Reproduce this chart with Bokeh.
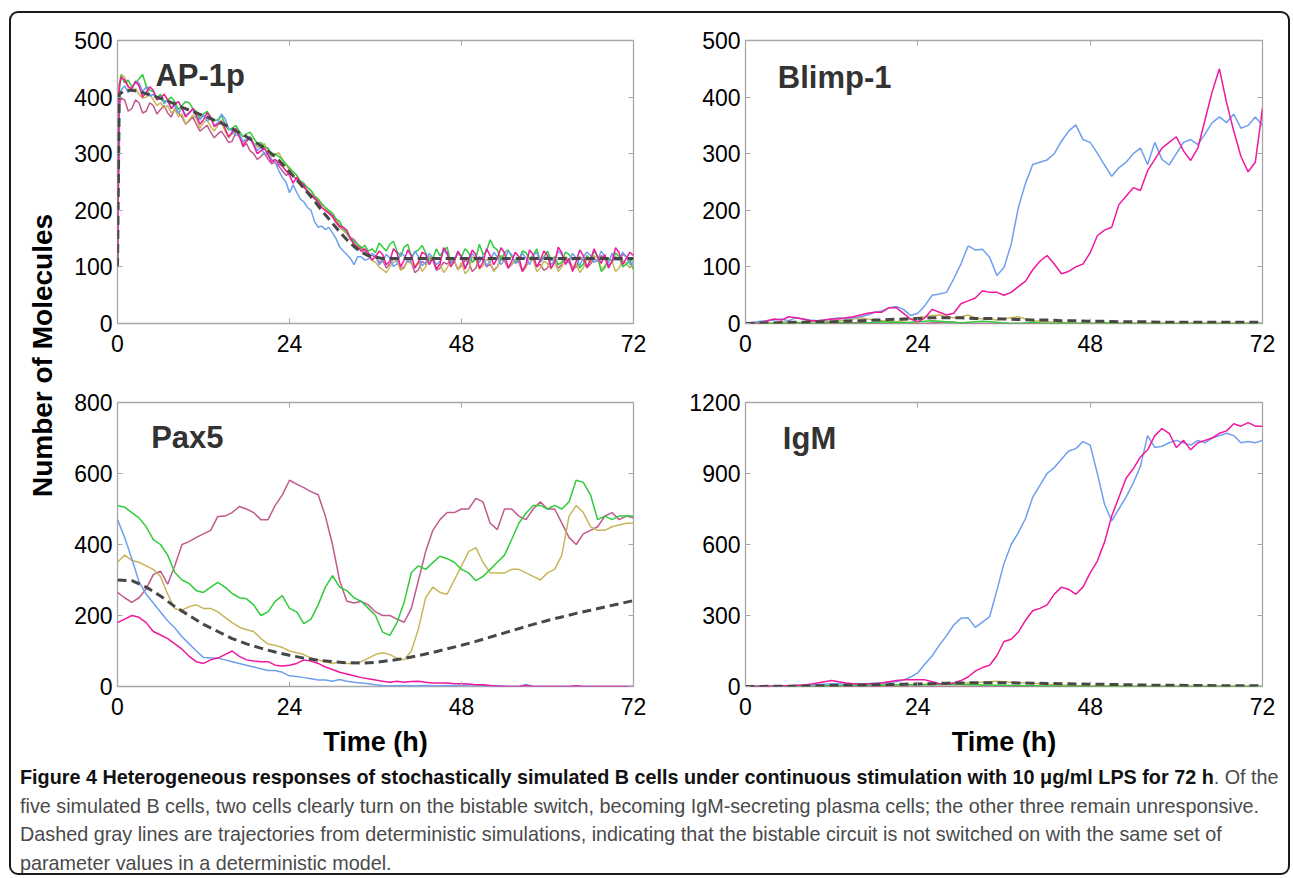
import math
from bokeh.plotting import figure
from bokeh.models import Range1d, FixedTicker, LinearAxis, Label, Div
from bokeh.layouts import row, column
from bokeh.embed import file_html
from bokeh.resources import INLINE

# ---------------- data ----------------
HOURS = list(range(73))
HOURS_AP = [0, 0.25] + [h / 2 for h in range(1, 145)]
HOURS_AP_DET = [0, 0.25] + list(range(1, 73))
HOURS_DET = list(range(0, 73, 2))
X_TICKS = [0, 24, 48, 72]

# AP-1p stochastic cells (time grid HOURS_AP, half-hour samples)
ap_blue = [100, 400,
           412, 420, 408, 415, 428, 425, 410, 418, 402, 405, 396, 400,
           388, 395, 380, 385, 372, 380, 368, 372, 378, 365, 360, 368,
           358, 362, 350, 355, 370, 362, 345, 340, 332, 335, 322, 325,
           330, 318, 305, 312, 298, 300, 290, 285, 270, 258, 250, 231,
           245, 232, 220, 215, 205, 200, 180, 170, 172, 166, 170, 160,
           150, 135, 128, 122, 115, 104, 118, 118, 112, 114, 124, 120,
           104, 110, 122, 116, 101, 105, 125, 120, 108, 112, 128, 118,
           102, 108, 124, 115, 104, 110, 130, 122, 106, 112, 126, 118,
           100, 108, 124, 115, 108, 120, 102, 110, 126, 118, 104, 112,
           128, 122, 106, 110, 124, 116, 104, 120, 126, 108, 116, 118,
           104, 112, 128, 122, 106, 110, 124, 115, 102, 118, 126, 120,
           108, 112, 128, 118, 106, 124, 112, 112, 126, 118, 104, 110]
ap_magenta = [100, 420,
              435, 430, 418, 415, 428, 420, 400, 408, 418, 412, 395, 398,
              405, 395, 380, 388, 392, 380, 365, 372, 380, 368, 352, 360,
              372, 365, 348, 352, 358, 345, 330, 338, 345, 330, 315, 322,
              328, 315, 300, 305, 310, 298, 285, 290, 282, 278, 270, 262,
              248, 258, 250, 245, 232, 228, 222, 215, 205, 200, 195, 190,
              180, 172, 170, 165, 150, 140, 135, 128, 132, 125, 112, 118,
              128, 122, 104, 110, 132, 125, 100, 112, 130, 120, 98, 108,
              126, 122, 104, 115, 96, 105, 134, 125, 100, 110, 128, 118,
              96, 112, 130, 122, 98, 108, 132, 120, 104, 115, 134, 125,
              98, 110, 126, 118, 92, 105, 130, 122, 100, 112, 128, 120,
              98, 108, 135, 125, 104, 115, 92, 110, 130, 120, 100, 112,
              132, 118, 106, 122, 98, 110, 134, 125, 104, 115, 126, 120]
ap_green = [100, 410,
            438, 425, 430, 418, 425, 432, 440, 420, 412, 410, 398, 405,
            392, 395, 400, 392, 378, 385, 392, 390, 380, 375, 362, 370,
            375, 365, 358, 360, 368, 352, 342, 345, 350, 340, 330, 335,
            338, 328, 318, 320, 312, 310, 298, 300, 295, 290, 282, 275,
            268, 262, 252, 248, 240, 235, 225, 220, 212, 205, 200, 195,
            185, 180, 168, 160, 150, 145, 140, 132, 138, 128, 132, 125,
            142, 135, 128, 140, 145, 128, 118, 135, 140, 118, 126, 130,
            138, 125, 110, 115, 132, 120, 128, 135, 108, 112, 124, 118,
            132, 125, 108, 115, 140, 122, 128, 148, 135, 130, 112, 125,
            130, 118, 108, 112, 128, 125, 115, 120, 132, 110, 118, 128,
            112, 118, 104, 108, 126, 122, 112, 115, 98, 105, 120, 112,
            128, 118, 92, 98, 115, 110, 125, 118, 100, 105, 112, 95]
ap_yellow = [100, 425,
             440, 435, 420, 410, 415, 405, 398, 400, 405, 395, 385, 390,
             380, 385, 372, 378, 365, 370, 352, 360, 368, 362, 345, 355,
             360, 348, 340, 350, 355, 340, 328, 335, 340, 330, 320, 325,
             330, 320, 312, 312, 318, 305, 295, 298, 302, 290, 280, 272,
             268, 262, 250, 245, 240, 235, 225, 218, 210, 205, 198, 190,
             182, 175, 165, 158, 148, 142, 135, 130, 122, 118, 112, 108,
             100, 95, 90, 100, 108, 112, 94, 98, 112, 105, 100, 110,
             92, 100, 118, 115, 98, 105, 90, 98, 112, 110, 94, 108,
             88, 95, 118, 112, 96, 102, 114, 108, 92, 100, 120, 115,
             98, 105, 112, 110, 94, 100, 116, 112, 92, 98, 110, 106,
             96, 110, 92, 100, 118, 112, 100, 105, 90, 98, 114, 108,
             120, 115, 96, 102, 114, 110, 92, 98, 112, 105, 98, 108]
ap_mauve = [100, 385,
            398, 395, 375, 380, 395, 390, 372, 375, 390, 385, 370, 378,
            385, 372, 365, 380, 372, 365, 352, 358, 365, 352, 340, 345,
            350, 338, 328, 335, 340, 330, 320, 322, 338, 335, 312, 318,
            305, 300, 290, 295, 302, 290, 282, 285, 278, 270, 262, 265,
            260, 255, 248, 240, 235, 228, 220, 215, 205, 200, 195, 188,
            178, 170, 165, 160, 152, 148, 140, 135, 128, 122, 120, 118,
            108, 112, 98, 105, 115, 110, 96, 100, 112, 108, 90, 95,
            110, 105, 116, 112, 94, 98, 108, 105, 112, 110, 96, 102,
            112, 108, 92, 98, 118, 112, 100, 105, 94, 100, 114, 110,
            98, 104, 112, 108, 92, 100, 116, 112, 100, 105, 94, 98,
            114, 110, 98, 104, 112, 108, 96, 100, 118, 112, 98, 105,
            114, 110, 120, 115, 102, 108, 118, 112, 122, 118, 110, 115]
# AP-1p deterministic (time grid HOURS_AP_DET)
ap_det = [100, 405,
          412, 412, 410, 406, 402, 398, 393, 388, 382, 377, 372, 367,
          362, 357, 351, 344, 337, 330, 322, 314, 305, 295, 282, 268,
          254, 239, 224, 208, 192, 177, 162, 148, 136, 126, 120, 117,
          115, 115, 115, 115, 115, 115, 115, 115, 115, 115, 115, 115,
          115, 115, 115, 115, 115, 115, 115, 115, 115, 115, 115, 115,
          115, 115, 115, 115, 115, 115, 115, 115, 115, 115, 115, 115]

# Blimp-1 (time grid HOURS)
bl_blue = [0,
           2, 4, 5, 6, 8, 5, 10, 8, 6, 5, 6, 8,
           10, 8, 10, 12, 15, 20, 22, 28, 30, 25, 14, 18,
           32, 50, 52, 55, 79, 105, 137, 130, 131, 117, 85, 99,
           140, 205, 248, 281, 285, 289, 300, 322, 340, 351, 325, 320,
           301, 280, 260, 275, 285, 300, 310, 281, 320, 290, 280, 300,
           320, 325, 316, 335, 355, 365, 355, 370, 345, 350, 365, 350]
bl_magenta = [0,
              0, 0, 5, 8, 6, 12, 10, 8, 5, 5, 6, 8,
              8, 10, 12, 15, 18, 20, 20, 28, 28, 18, 8, 3,
              10, 25, 20, 15, 18, 35, 40, 45, 58, 55, 55, 50,
              55, 65, 75, 95, 110, 120, 105, 88, 92, 100, 105, 125,
              155, 165, 170, 210, 225, 240, 235, 270, 290, 310, 320, 330,
              305, 288, 310, 360, 410, 450, 390, 340, 295, 268, 285, 380]
bl_yellow = [0,
             0, 0, 0, 2, 3, 2, 0, 2, 3, 5, 4, 3,
             5, 6, 8, 10, 8, 6, 5, 4, 3, 5, 8, 10,
             12, 14, 15, 12, 10, 12, 15, 10, 8, 8, 6, 8,
             10, 12, 8, 5, 4, 3, 2, 2, 1, 1, 0, 0,
             0, 0, 0, 0, 0, 0, 0, 0, 0, 0, 0, 0,
             0, 0, 0, 0, 0, 0, 0, 0, 0, 0, 0, 0]
bl_green = [0,
            0, 0, 0, 0, 0, 1, 2, 1, 0, 0, 1, 2,
            2, 1, 0, 0, 1, 2, 3, 2, 2, 1, 2, 3,
            4, 5, 4, 3, 2, 1, 2, 3, 4, 3, 2, 1,
            0, 0, 1, 2, 1, 0, 0, 1, 0, 0, 0, 0,
            0, 2, 0, 0, 0, 0, 0, 0, 0, 0, 0, 0,
            0, 0, 0, 0, 0, 0, 0, 0, 0, 0, 0, 0]
bl_mauve = [0,
            0, 0, 0, 0, 0, 0, 0, 0, 0, 0, 0, 0,
            0, 0, 1, 2, 1, 0, 0, 0, 1, 2, 1, 0,
            0, 1, 2, 3, 2, 1, 0, 0, 0, 0, 0, 0,
            0, 0, 0, 0, 0, 0, 0, 0, 0, 0, 0, 0,
            0, 0, 0, 0, 0, 0, 0, 0, 0, 0, 0, 0,
            0, 0, 0, 0, 0, 0, 0, 0, 0, 0, 0, 0]
bl_det = [0, 1, 1, 2, 2, 3, 3, 4, 5, 6, 7, 8, 9, 10, 10, 10, 9, 9, 8,
          7, 6, 6, 5, 5, 4, 4, 3, 3, 3, 2, 2, 2, 2, 2, 2, 2, 2]

# Pax5 (time grid HOURS)
px_green = [510,
            505, 490, 475, 450, 414, 400, 370, 321, 300, 290, 270, 265,
            280, 293, 280, 262, 250, 247, 230, 200, 210, 240, 256, 220,
            210, 177, 190, 230, 280, 312, 280, 270, 250, 240, 220, 200,
            153, 144, 180, 237, 321, 340, 330, 349, 367, 360, 350, 330,
            320, 298, 310, 330, 350, 370, 414, 460, 488, 510, 510, 500,
            510, 500, 520, 581, 575, 540, 470, 480, 470, 480, 480, 480]
px_mauve = [265,
            250, 237, 250, 275, 315, 325, 288, 340, 400, 408, 420, 430,
            440, 479, 480, 490, 507, 500, 490, 470, 470, 510, 540, 581,
            570, 560, 549, 540, 480, 400, 298, 240, 235, 240, 230, 210,
            200, 200, 190, 181, 220, 300, 380, 440, 470, 490, 490, 500,
            500, 530, 520, 460, 442, 500, 500, 480, 470, 500, 520, 500,
            500, 460, 420, 400, 430, 440, 450, 480, 490, 470, 480, 475]
px_yellow = [350,
             370, 355, 350, 340, 330, 310, 260, 219, 215, 225, 230, 220,
             220, 210, 195, 180, 167, 160, 155, 135, 120, 116, 110, 100,
             95, 90, 80, 75, 70, 65, 70, 65, 65, 70, 80, 90,
             95, 90, 80, 75, 100, 163, 250, 280, 265, 260, 300, 340,
             380, 391, 350, 320, 320, 320, 330, 330, 320, 310, 300, 320,
             330, 370, 480, 510, 490, 450, 440, 440, 450, 455, 460, 460]
px_blue = [470,
           420, 360, 295, 260, 235, 210, 185, 165, 140, 120, 100, 82,
           80, 80, 75, 70, 65, 60, 55, 50, 45, 45, 40, 30,
           28, 25, 22, 18, 18, 15, 20, 15, 12, 10, 8, 5,
           3, 2, 2, 3, 2, 2, 3, 2, 2, 3, 2, 3,
           4, 5, 3, 2, 3, 1, 0, 0, 6, 0, 0, 0,
           0, 0, 0, 0, 0, 0, 0, 0, 0, 0, 0, 0]
px_magenta = [180,
              190, 200, 195, 180, 155, 145, 135, 120, 105, 85, 70, 65,
              75, 80, 90, 100, 85, 75, 72, 70, 70, 60, 58, 60,
              65, 75, 72, 65, 55, 48, 40, 35, 30, 25, 22, 18,
              15, 12, 15, 12, 14, 15, 12, 10, 10, 10, 8, 8,
              7, 5, 5, 3, 0, 1, 0, 0, 3, 0, 0, 0,
              0, 0, 0, 2, 0, 0, 0, 0, 0, 0, 0, 0]
px_det = [300, 298, 280, 255, 225, 200, 175, 155, 135, 120, 108, 97, 88,
          80, 74, 70, 67, 66, 68, 73, 79, 87, 96, 106, 116, 127, 139,
          151, 163, 175, 186, 196, 206, 215, 224, 233, 242]

# IgM (time grid HOURS)
ig_blue = [0,
           0, 0, 0, 0, 2, 3, 3, 5, 5, 8, 10, 12,
           12, 10, 12, 12, 12, 15, 15, 18, 20, 27, 40, 58,
           95, 130, 175, 215, 260, 288, 290, 250, 272, 295, 405, 520,
           600, 650, 710, 800, 850, 900, 925, 960, 995, 1005, 1035, 1020,
           900, 770, 700, 750, 800, 860, 930, 1060, 1010, 1015, 1030, 1040,
           1030, 1020, 1040, 1030, 1050, 1060, 1070, 1060, 1030, 1035, 1030, 1040]
ig_magenta = [0,
              0, 0, 0, 2, 3, 3, 5, 5, 10, 15, 20, 25,
              20, 15, 12, 10, 12, 12, 15, 20, 25, 28, 28, 28,
              28, 20, 12, 10, 15, 25, 40, 65, 80, 90, 130, 190,
              200, 230, 280, 320, 330, 345, 390, 420, 410, 390, 420, 480,
              530, 610, 720, 800, 880, 920, 970, 1000, 1060, 1090, 1070, 1010,
              1040, 1000, 1030, 1040, 1050, 1070, 1080, 1110, 1100, 1115, 1100, 1100]
ig_yellow = [0,
             0, 0, 0, 0, 0, 0, 1, 2, 2, 3, 3, 4,
             4, 5, 5, 5, 6, 6, 6, 7, 7, 8, 8, 9,
             10, 10, 12, 12, 14, 15, 15, 16, 18, 20, 22, 20,
             18, 16, 15, 14, 12, 10, 8, 6, 5, 4, 3, 2,
             2, 2, 1, 1, 0, 0, 0, 0, 0, 0, 0, 0,
             0, 0, 0, 0, 0, 0, 0, 0, 0, 0, 0, 0]
ig_green = [0,
            0, 0, 0, 0, 0, 1, 1, 2, 2, 2, 3, 3,
            3, 4, 4, 4, 5, 5, 5, 6, 6, 6, 7, 7,
            7, 8, 8, 8, 8, 8, 7, 7, 6, 6, 5, 5,
            4, 4, 3, 3, 2, 2, 2, 1, 1, 1, 0, 0,
            0, 0, 0, 0, 0, 0, 0, 0, 0, 0, 0, 0,
            0, 0, 0, 0, 0, 0, 0, 0, 0, 0, 0, 0]
ig_mauve = [0] * 73
ig_det = [0, 0, 1, 1, 2, 3, 4, 5, 6, 7, 8, 10, 11, 12, 14, 15, 16, 16, 16,
          15, 14, 13, 12, 11, 10, 9, 8, 7, 6, 5, 5, 4, 4, 3, 3, 3, 3]

# ---------------- styling ----------------
COLORS = {"mauve": "#bf5a8e", "yellow": "#c8b65a", "green": "#2fcc3a",
          "blue": "#6f9fee", "magenta": "#f0189c"}
DET_COLOR = "#474747"
FRAME = "#a8a8a8"
FONT = "Liberation Sans"


def panel(title, tx, ty, ymax, yticks, t, series, det, width, height,
          left, right, top, bottom, xlabel=None):
    p = figure(width=width, height=height, x_range=Range1d(0, 72),
               y_range=Range1d(0, ymax), output_backend="svg",
               toolbar_location=None, min_border_left=left,
               min_border_right=right, min_border_top=top,
               min_border_bottom=bottom)
    p.grid.visible = False
    p.outline_line_color = FRAME
    p.outline_line_width = 1.3
    p.xaxis.ticker = FixedTicker(ticks=X_TICKS)
    p.yaxis.ticker = FixedTicker(ticks=yticks)
    for ax in list(p.xaxis) + list(p.yaxis):
        ax.axis_line_color = None
        ax.major_tick_in = 5
        ax.major_tick_out = 0
        ax.major_tick_line_color = FRAME
        ax.minor_tick_line_color = None
        ax.major_label_text_font = FONT
        ax.major_label_text_font_size = "23px"
        ax.major_label_text_color = "black"
    p.xaxis.major_label_standoff = 11
    p.yaxis.major_label_standoff = 5
    if xlabel:
        p.xaxis.axis_label = xlabel
        p.xaxis.axis_label_text_font = FONT
        p.xaxis.axis_label_text_font_style = "bold"
        p.xaxis.axis_label_text_font_size = "27px"
        p.xaxis.axis_label_text_color = "black"
        p.xaxis.axis_label_standoff = 9
    for loc, ticks in (("above", X_TICKS), ("right", yticks)):
        ax = LinearAxis(ticker=FixedTicker(ticks=ticks), axis_line_color=None,
                        major_tick_in=5, major_tick_out=0,
                        major_tick_line_color=FRAME, minor_tick_line_color=None,
                        major_label_text_color=None,
                        major_label_text_font_size="1px",
                        major_label_standoff=0)
        p.add_layout(ax, loc)
    for name in ("mauve", "yellow", "green", "blue", "magenta"):
        p.line(t, series[name], line_color=COLORS[name], line_width=1.5)
    p.line(det[0], det[1], line_color=DET_COLOR, line_width=3,
           line_dash="9 5")
    p.add_layout(Label(x=tx, y=ty, text=title, text_font=FONT,
                       text_font_style="bold", text_font_size="31px",
                       text_color="#333333", text_baseline="alphabetic"))
    return p


p_ap = panel("AP-1p", 5.3, 439, 500, [0, 100, 200, 300, 400, 500], HOURS_AP,
             {"blue": ap_blue, "magenta": ap_magenta, "green": ap_green,
              "yellow": ap_yellow, "mauve": ap_mauve},
             (HOURS_AP_DET, ap_det), 620, 367, 57, 47, 40, 42)
p_bl = panel("Blimp-1", 4.5, 435, 500, [0, 100, 200, 300, 400, 500], HOURS,
             {"blue": bl_blue, "magenta": bl_magenta, "green": bl_green,
              "yellow": bl_yellow, "mauve": bl_mauve},
             (HOURS_DET, bl_det), 613, 367, 65, 31, 38, 44)
p_px = panel("Pax5", 4.7, 702, 800, [0, 200, 400, 600, 800], HOURS,
             {"blue": px_blue, "magenta": px_magenta, "green": px_green,
              "yellow": px_yellow, "mauve": px_mauve},
             (HOURS_DET, px_det), 620, 395, 57, 47, 35, 74, "Time (h)")
p_ig = panel("IgM", 5.2, 1049, 1200, [0, 300, 600, 900, 1200], HOURS,
             {"blue": ig_blue, "magenta": ig_magenta, "green": ig_green,
              "yellow": ig_yellow, "mauve": ig_mauve},
             (HOURS_DET, ig_det), 613, 395, 65, 31, 33, 76, "Time (h)")

# shared y-axis title strip
strip = figure(width=60, height=762, x_range=Range1d(0, 60),
               y_range=Range1d(762, 0), output_backend="svg",
               toolbar_location=None, x_axis_location=None,
               y_axis_location=None, min_border=0)
strip.grid.visible = False
strip.outline_line_color = None
strip.add_layout(Label(x=42, y=355, text="Number of Molecules",
                       angle=math.pi / 2, text_align="center",
                       text_baseline="middle", text_font=FONT,
                       text_font_style="bold", text_font_size="28px",
                       text_color="black"))

caption_html = (
    '<div style="font-family:\'Liberation Sans\',Arial,sans-serif;'
    'font-size:19.8px;line-height:28.5px;color:#4a4a4a;white-space:nowrap;'
    'padding-left:20px;padding-top:1px;margin:0;">'
    '<b style="color:#111">Figure 4 Heterogeneous responses of stochastically '
    'simulated B cells under continuous stimulation with 10 &mu;g/ml LPS for '
    '72 h</b>. Of the<br>'
    'five simulated B cells, two cells clearly turn on the bistable switch, '
    'becoming IgM-secreting plasma cells; the other three remain unresponsive.<br>'
    'Dashed gray lines are trajectories from deterministic simulations, '
    'indicating that the bistable circuit is not switched on with the same set of<br>'
    'parameter values in a deterministic model.</div>')
caption = Div(text=caption_html, width=1293, height=116, margin=0)

frame_box = Div(text="", width=1281, height=864, margin=0,
                styles={"position": "absolute", "left": "9px", "top": "11px",
                        "border": "2px solid #1a1a1a", "border-radius": "9px",
                        "box-sizing": "border-box", "pointer-events": "none"})

grid = column(row(p_ap, p_bl), row(p_px, p_ig))
page = column(row(strip, grid), caption, frame_box)

with open("out.html", "w", encoding="utf-8") as f:
    f.write(file_html(page, INLINE))
